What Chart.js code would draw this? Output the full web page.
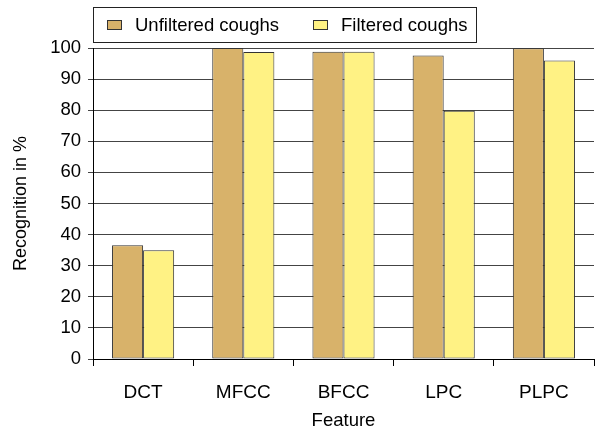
<!DOCTYPE html>
<html>
<head>
<meta charset="utf-8">
<script src="https://cdn.jsdelivr.net/npm/chart.js@4"></script>
<style>
  html, body { margin: 0; padding: 0; background: #fff; }
  #wrap { position: relative; width: 597px; height: 432px; }
  #legend {
    position: absolute; left: 93px; top: 7px; width: 382px; height: 34px;
    border: 1px solid #222;
    font: 18.5px "Liberation Sans", Arial, sans-serif; color: #000;
    display: flex; align-items: center;
  }
  #legend span.box {
    display: inline-block; width: 13px; height: 8px; border: 1px solid #333;
    margin-right: 13px;
  }
  #legend .item { display: flex; align-items: center; }
</style>
</head>
<body>
<div id="wrap">
  <canvas id="chart" width="597" height="432"></canvas>
  <div id="legend"></div>
</div>
<script>
// data
const features = ["DCT", "MFCC", "BFCC", "LPC", "PLPC"];
const unfiltered = [36.6, 100, 98.8, 97.6, 99.9];
const filtered = [35.0, 98.7, 98.8, 79.8, 96.0];
const seriesNames = ["Unfiltered coughs", "Filtered coughs"];
const colors = ["#D8B26A", "#FFF284"];

const font = "'Liberation Sans', Arial, sans-serif";

// html legend with a frame, like the original
const legend = document.getElementById("legend");
seriesNames.forEach((name, i) => {
  const item = document.createElement("div");
  item.className = "item";
  item.style.marginLeft = i === 0 ? "13px" : "34px";
  item.innerHTML = '<span class="box" style="background:' + colors[i] + '"></span>' + name;
  legend.appendChild(item);
});

const chart = new Chart(document.getElementById("chart"), {
  type: "bar",
  data: {
    labels: features,
    datasets: [
      {
        label: seriesNames[0],
        data: unfiltered,
        backgroundColor: colors[0],
        borderColor: "#333",
        borderWidth: 1,
        borderSkipped: false
      },
      {
        label: seriesNames[1],
        data: filtered,
        backgroundColor: colors[1],
        borderColor: "#333",
        borderWidth: 1,
        borderSkipped: false
      }
    ]
  },
  options: {
    responsive: false,
    animation: false,
    layout: { padding: { top: 48, right: 3, left: 0, bottom: 0 } },
    datasets: { bar: { categoryPercentage: 0.62, barPercentage: 1.0 } },
    plugins: {
      legend: { display: false },
      tooltip: { enabled: false }
    },
    scales: {
      x: {
        offset: true,
        afterFit: s => { s.height = 73; },
        grid: { offset: true, drawOnChartArea: false, drawTicks: true, tickLength: 7, color: "#000" },
        border: { color: "#000", width: 1 },
        ticks: { color: "#000", font: { family: font, size: 19 }, padding: 15 },
        title: { display: true, text: "Feature", color: "#000", font: { family: font, size: 18.5 }, padding: { top: 0, bottom: 0 } }
      },
      y: {
        min: 0,
        max: 100,
        afterFit: s => { s.width = 93; },
        ticks: { stepSize: 10, color: "#000", font: { family: font, size: 18.5 }, padding: 7 },
        grid: { color: "#444", lineWidth: 1, tickLength: 5 },
        border: { color: "#000", width: 1 },
        title: { display: true, text: "Recognition in %", color: "#000", font: { family: font, size: 18 }, padding: { top: 10, bottom: 0 } }
      }
    }
  }
});
</script>
</body>
</html>
